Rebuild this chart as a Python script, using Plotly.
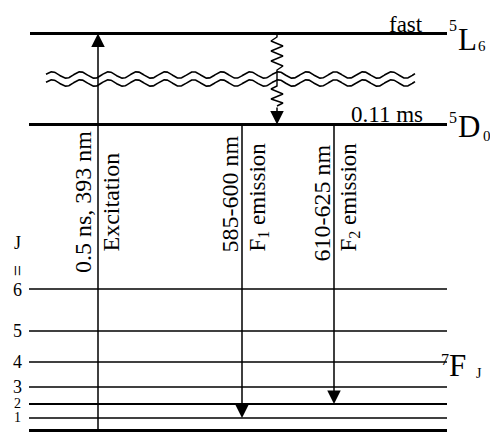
import numpy as np
import plotly.graph_objects as go

# ---------------- data (diagram energy units, 0 = 7F0) ----------------
J_VALUES = ["0", "1", "2", "3", "4", "5", "6"]
F_LEVELS = [0.0, 12.5, 26.5, 43.5, 68.5, 99.5, 141.5]     # 7F_J manifold
D0_LEVEL = 306.0                                           # 5D0
L6_LEVEL = 397.0                                           # 5L6
BREAK_LEVELS = [355.5, 347.5]                              # axis-break wavy lines
TERM_MAIN = ["L", "D", "F"]
TERM_SUP = ["5", "5", "7"]
TERM_SUB = ["6", "0", "J"]
LIFETIMES = ["fast", "0.11 ms"]
EXC_TEXT = ["0.5 ns, 393 nm", "Excitation"]
F1_TEXT = ["585-600 nm", "F<sub>1</sub> emission"]
F2_TEXT = ["610-625 nm", "F<sub>2</sub> emission"]

# ---------------- layout helpers ----------------
W, H = 490, 432
Y0 = 430.5
def py(px):
    return Y0 - px

FONT = "Liberation Serif, Times New Roman, serif"
X_LEFT, X_RIGHT = 29, 447
X_EXC, X_F1, X_F2, X_NR = 98, 242, 334, 277

fig = go.Figure()

def line(xs, ys, width=1.5):
    fig.add_trace(go.Scatter(x=xs, y=ys, mode="lines",
                             line=dict(color="black", width=width),
                             hoverinfo="skip", showlegend=False))

# level lines
f_widths = [3, 1.6, 2, 1.6, 1.6, 1.6, 1.6]
for lev, w in zip(F_LEVELS, f_widths):
    line([X_LEFT, X_RIGHT], [lev, lev], w)
line([X_LEFT + 1, X_RIGHT], [L6_LEVEL, L6_LEVEL], 3)
line([X_LEFT, X_RIGHT], [D0_LEVEL, D0_LEVEL], 3)

# wavy break lines (decorative)
xw = np.linspace(46, 415, 700)
for lev in BREAK_LEVELS:
    line(xw, lev + 3.2 * np.sin(2 * np.pi * (xw - 45) / 28.3), 1.6)

# non-radiative zigzag relaxation
zx = [X_NR, X_NR, X_NR - 6, X_NR + 6, X_NR - 6, X_NR + 6, X_NR - 6, X_NR + 6, X_NR,
      X_NR, X_NR - 6, X_NR + 6, X_NR - 6, X_NR + 6, X_NR]
zy_px = [33, 37, 41, 46, 51, 56, 61, 66, 70, 86, 89, 94, 99, 103, 106]
line(zx, [py(v) for v in zy_px], 1.4)

def arrow(x, y_from, y_to):
    fig.add_annotation(x=x, y=y_to, ax=x, ay=y_from, xref="x", yref="y",
                       axref="x", ayref="y", text="", showarrow=True,
                       arrowhead=2, arrowsize=1.8, arrowwidth=1.5,
                       arrowcolor="black", standoff=0, startstandoff=0)

arrow(X_EXC, F_LEVELS[0], L6_LEVEL)
arrow(X_F1, D0_LEVEL, F_LEVELS[1])
arrow(X_F2, D0_LEVEL, F_LEVELS[2])
arrow(X_NR, py(106), D0_LEVEL)

def text(t, x, ypx, size, xanchor="center", yanchor="middle", angle=0):
    fig.add_annotation(x=x, y=py(ypx), xref="x", yref="y", text=t,
                       showarrow=False, xanchor=xanchor, yanchor=yanchor,
                       textangle=angle, font=dict(family=FONT, size=size, color="black"))

# rotated transition labels
text(EXC_TEXT[0], 83, 275, 24, yanchor="bottom", angle=-90)
text(EXC_TEXT[1], 110, 254, 24, yanchor="bottom", angle=-90)
text(F1_TEXT[0], 229, 255, 24, yanchor="bottom", angle=-90)
text(F1_TEXT[1], 258, 254, 23, yanchor="bottom", angle=-90)
text(F2_TEXT[0], 321, 264, 24, yanchor="bottom", angle=-90)
text(F2_TEXT[1], 349, 254, 23, yanchor="bottom", angle=-90)

# lifetimes
text(LIFETIMES[0], 425, 24.3, 23, xanchor="right")
text(LIFETIMES[1], 425, 114.3, 23, xanchor="right")

# J labels
text("J", 17, 243, 18)
text("=", 17, 270, 20, angle=90)
j_sizes = [14, 14, 14, 18, 18, 18, 18]
j_ypx = [435, 417.5, 403, 387, 362, 331, 290]
for lab, ypx, s in zip(J_VALUES, j_ypx, j_sizes):
    text(lab, 17, ypx, s)

# term symbols
term_pos = [  # (sup x, sup y, main x, main y, sub x, sub y)
    (447, 25, 456, 39, 476, 46),
    (447, 117, 456, 126, 481, 136),
    (439, 359, 447, 365, 474, 373),
]
for sup, main, sub, p in zip(TERM_SUP, TERM_MAIN, TERM_SUB, term_pos):
    text(sup, p[0], p[1], 16, xanchor="left")
    text(main, p[2], p[3], 31, xanchor="left")
    text(sub, p[4], p[5], 15 if sub != "J" else 14, xanchor="left")

fig.update_layout(
    width=W, height=H, margin=dict(l=0, r=0, t=0, b=0),
    paper_bgcolor="white", plot_bgcolor="white",
    xaxis=dict(range=[0, W], visible=False, fixedrange=True),
    yaxis=dict(range=[py(H), py(0)], visible=False, fixedrange=True),
    showlegend=False,
)
fig.write_html("out.html")
